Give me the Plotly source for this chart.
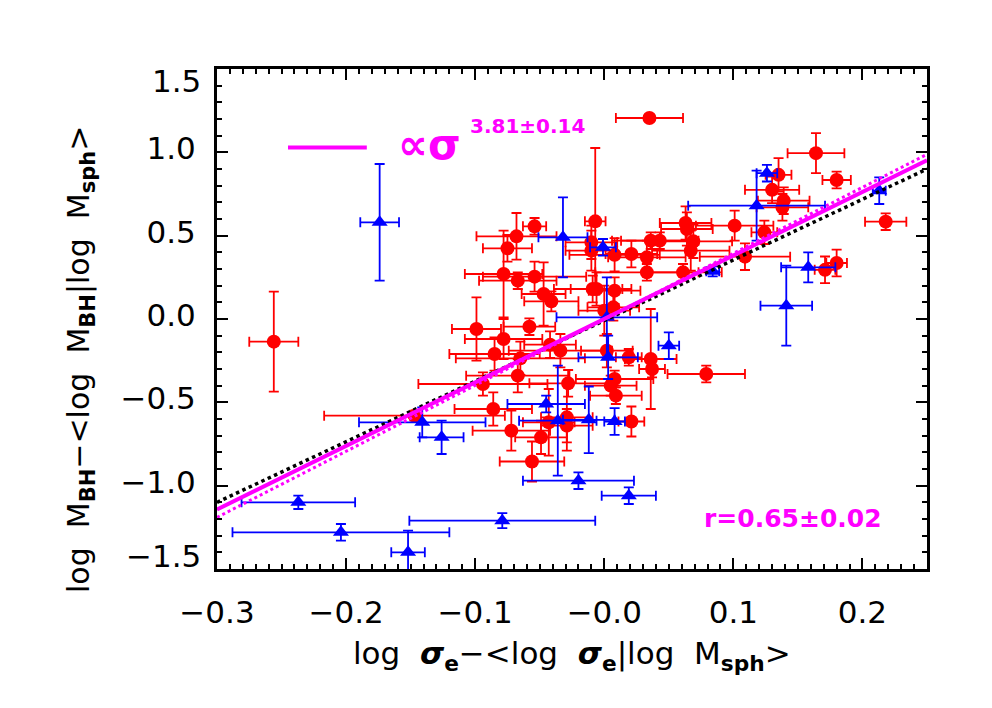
"""Residual black-hole mass vs residual velocity dispersion at fixed spheroid mass."""
import plotly.graph_objects as go

FONT = "DejaVu Sans"
RED = "#FF0000"
BLUE = "#0000FF"
MAGENTA = "#FF00FF"

# red circles: x, y, x error, y error
red_x = [-0.256, -0.054, -0.068, -0.075, -0.078, -0.067, -0.054, -0.047, -0.041, -0.007,
         -0.010, -0.010, -0.009, -0.006, -0.099, -0.058, -0.078, -0.085, -0.065, -0.042,
         -0.034, -0.067, -0.094, -0.028, -0.086, -0.072, -0.049, -0.056, -0.043, -0.029,
         -0.029, 0.000, 0.007, 0.002, 0.008, 0.021, 0.033, 0.033, 0.036, 0.043,
         0.063, 0.064, 0.069, 0.067, 0.061, 0.101, 0.124, 0.109, 0.008, 0.019,
         0.036, 0.037, 0.008, 0.005, 0.009, 0.079, 0.021, 0.035, 0.164, 0.180,
         0.135, 0.130, 0.139, 0.138, 0.218, 0.180, 0.171, -0.147]
red_y = [-0.136, 0.556, 0.496, 0.424, 0.270, 0.230, 0.254, 0.150, 0.106, 0.586,
         0.460, 0.410, 0.180, 0.180, -0.060, -0.046, -0.120, -0.210, -0.236, -0.154,
         -0.190, -0.340, -0.390, -0.386, -0.540, -0.670, -0.710, -0.855, -0.620, -0.590,
         -0.640, 0.050, 0.070, -0.190, 0.385, 0.390, 0.370, 0.280, 0.470, 0.470,
         0.576, 0.540, 0.466, 0.410, 0.280, 0.560, 0.520, 0.374, 0.170, -0.230,
         -0.240, -0.300, -0.360, -0.400, -0.460, -0.330, -0.615, 1.206, 0.995, 0.834,
         0.865, 0.775, 0.710, 0.670, 0.584, 0.336, 0.295, -0.580]
red_xerr = [0.019, 0.009, 0.031, 0.019, 0.030, 0.030, 0.040, 0.017, 0.021, 0.008,
            0.020, 0.020, 0.030, 0.020, 0.019, 0.020, 0.030, 0.035, 0.050, 0.020,
            0.040, 0.040, 0.050, 0.030, 0.030, 0.030, 0.020, 0.025, 0.020, 0.020,
            0.020, 0.020, 0.020, 0.020, 0.035, 0.020, 0.030, 0.040, 0.030, 0.030,
            0.020, 0.020, 0.030, 0.030, 0.030, 0.030, 0.010, 0.035, 0.020, 0.010,
            0.020, 0.010, 0.030, 0.020, 0.020, 0.030, 0.010, 0.026, 0.022, 0.011,
            0.010, 0.021, 0.020, 0.020, 0.016, 0.008, 0.008, 0.070]
red_yerr = [0.30, 0.05, 0.14, 0.08, 0.26, 0.05, 0.09, 0.19, 0.06, 0.44,
            0.10, 0.12, 0.08, 0.10, 0.19, 0.05, 0.12, 0.10, 0.10, 0.08,
            0.10, 0.10, 0.07, 0.08, 0.10, 0.12, 0.10, 0.12, 0.20, 0.20,
            0.10, 0.15, 0.08, 0.10, 0.10, 0.08, 0.10, 0.05, 0.05, 0.05,
            0.10, 0.10, 0.10, 0.12, 0.05, 0.09, 0.07, 0.08, 0.08, 0.05,
            0.30, 0.05, 0.05, 0.06, 0.05, 0.05, 0.09, 0.02, 0.12, 0.05,
            0.10, 0.08, 0.08, 0.08, 0.05, 0.08, 0.08, 0.03]

# blue triangles
blue_x = [-0.174, -0.032, -0.001, 0.118, 0.126, 0.084, 0.213, 0.158, 0.141, 0.050,
          0.002, 0.003, -0.045, -0.036, -0.012, 0.008, -0.126, -0.141, -0.237, -0.204,
          -0.152, -0.079, -0.020, 0.019]
blue_y = [0.58, 0.49, 0.43, 0.68, 0.875, 0.286, 0.77, 0.31, 0.08, -0.16,
          0.01, -0.23, -0.51, -0.61, -0.605, -0.615, -0.71, -0.62, -1.10, -1.28,
          -1.40, -1.21, -0.97, -1.06]
blue_xerr = [0.015, 0.019, 0.010, 0.053, 0.008, 0.005, 0.005, 0.021, 0.020, 0.008,
             0.039, 0.023, 0.030, 0.030, 0.020, 0.008, 0.017, 0.049, 0.044, 0.084,
             0.013, 0.072, 0.043, 0.021]
blue_yerr = [0.35, 0.24, 0.05, 0.21, 0.05, 0.03, 0.08, 0.09, 0.24, 0.08,
             0.24, 0.13, 0.05, 0.33, 0.20, 0.08, 0.10, 0.09, 0.04, 0.05,
             0.13, 0.045, 0.05, 0.05]

# fit lines, evaluated at the plot edges
line_x = [-0.3, 0.25]
fit_solid = [-1.143, 0.953]
fit_dotted = [-1.190, 0.988]
fit_black = [-1.100, 0.900]

x_ticks = [-0.3, -0.2, -0.1, 0.0, 0.1, 0.2]
x_labels = ["\u22120.3", "\u22120.2", "\u22120.1", "\u22120.0", "0.1", "0.2"]
y_ticks = [-1.5, -1.0, -0.5, 0.0, 0.5, 1.0, 1.5]
y_labels = ["\u22121.5", "\u22121.0", "\u22120.5", "0.0", "0.5", "1.0", "1.5"]


def err(vals, color):
    return dict(type="data", array=vals, color=color, thickness=1.8, width=5)


fig = go.Figure()
fig.add_trace(go.Scatter(
    x=red_x, y=red_y, mode="markers",
    marker=dict(symbol="circle", size=14, color=RED),
    error_x=err(red_xerr, RED), error_y=err(red_yerr, RED),
))
fig.add_trace(go.Scatter(
    x=blue_x, y=blue_y, mode="markers",
    marker=dict(symbol="triangle-up", size=14, color=BLUE),
    error_x=err(blue_xerr, BLUE), error_y=err(blue_yerr, BLUE),
))
fig.add_trace(go.Scatter(x=line_x, y=fit_black, mode="lines",
                         line=dict(color="black", width=3.5, dash="dot")))
fig.add_trace(go.Scatter(x=line_x, y=fit_dotted, mode="lines",
                         line=dict(color=MAGENTA, width=3, dash="dot")))
fig.add_trace(go.Scatter(x=line_x, y=fit_solid, mode="lines",
                         line=dict(color=MAGENTA, width=4)))

tick_font = dict(family=FONT, size=31, color="black")
axis_common = dict(
    showgrid=False, zeroline=False, showline=True, linewidth=3, linecolor="black",
    mirror="allticks", ticks="inside", ticklen=11, tickwidth=2, tickcolor="black",
    tickfont=tick_font,
)
fig.update_xaxes(
    range=[-0.3, 0.25],
    tickvals=x_ticks, ticktext=x_labels,
    minor=dict(dtick=0.01, ticks="inside", ticklen=5, tickwidth=2, tickcolor="black"),
    ticklabelstandoff=14,
    **axis_common,
)
# the end labels of the y axis are pulled inside the frame, as IDL does
fig.update_yaxes(
    range=[-1.5, 1.5],
    tickvals=y_ticks, ticktext=[""] + y_labels[1:-1] + [""],
    minor=dict(dtick=0.1, ticks="inside", ticklen=5, tickwidth=2, tickcolor="black"),
    ticklabelstandoff=12,
    ticklabelshift=-4,
    **axis_common,
)

sp = "\u00a0\u00a0"
sig = "<b><i>\u03c3</i></b><sub><b>e</b></sub>"
xtitle = f"log{sp}{sig}\u2212&lt;log{sp}{sig}|log{sp}M<sub><b>sph</b></sub>&gt;"
ytitle = (f"log{sp}M<sub><b>BH</b></sub>\u2212&lt;log{sp}M<sub><b>BH</b></sub>"
          f"|log{sp}M<sub><b>sph</b></sub>&gt;")

end_labels = [
    dict(text=y_labels[0], xref="paper", yref="y", x=0, y=y_ticks[0], yshift=13),
    dict(text=y_labels[-1], xref="paper", yref="y", x=0, y=y_ticks[-1], yshift=-12),
]
for a in end_labels:
    a.update(showarrow=False, font=tick_font, xanchor="right", yanchor="middle",
             xshift=-14)

fig.update_layout(
    width=992, height=708,
    margin=dict(l=217, r=65, t=69, b=139),
    paper_bgcolor="white", plot_bgcolor="white",
    showlegend=False,
    font=dict(family=FONT, color="black"),
    shapes=[dict(type="line", xref="paper", yref="paper", x0=0.100, x1=0.211,
                 y0=0.843, y1=0.843, line=dict(color=MAGENTA, width=4))],
    annotations=end_labels + [
        dict(text=xtitle, xref="paper", yref="paper", x=0.5, y=-0.172,
             showarrow=False, font=dict(size=31), xanchor="center", yanchor="middle"),
        dict(text=ytitle, xref="paper", yref="paper", x=-0.193, y=0.42,
             showarrow=False, font=dict(size=30), textangle=-90,
             xanchor="center", yanchor="middle"),
        dict(text="<b>\u221d\u03c3</b>", xref="paper", yref="paper", x=0.252, y=0.85,
             showarrow=False, font=dict(size=42, color=MAGENTA),
             xanchor="left", yanchor="middle"),
        dict(text="<b>3.81\u00b10.14</b>", xref="paper", yref="paper", x=0.354, y=0.886,
             showarrow=False, font=dict(size=20, color=MAGENTA),
             xanchor="left", yanchor="middle"),
        dict(text="<b>r=0.65\u00b10.02</b>", xref="paper", yref="paper", x=0.811, y=0.102,
             showarrow=False, font=dict(size=25, color=MAGENTA),
             xanchor="center", yanchor="middle"),
    ],
)

# the page body has a default 8px margin; drop it so the figure sits at the window corner
fig.write_html("out.html", config={"displayModeBar": False},
               post_script="document.body.style.margin = '0';")
